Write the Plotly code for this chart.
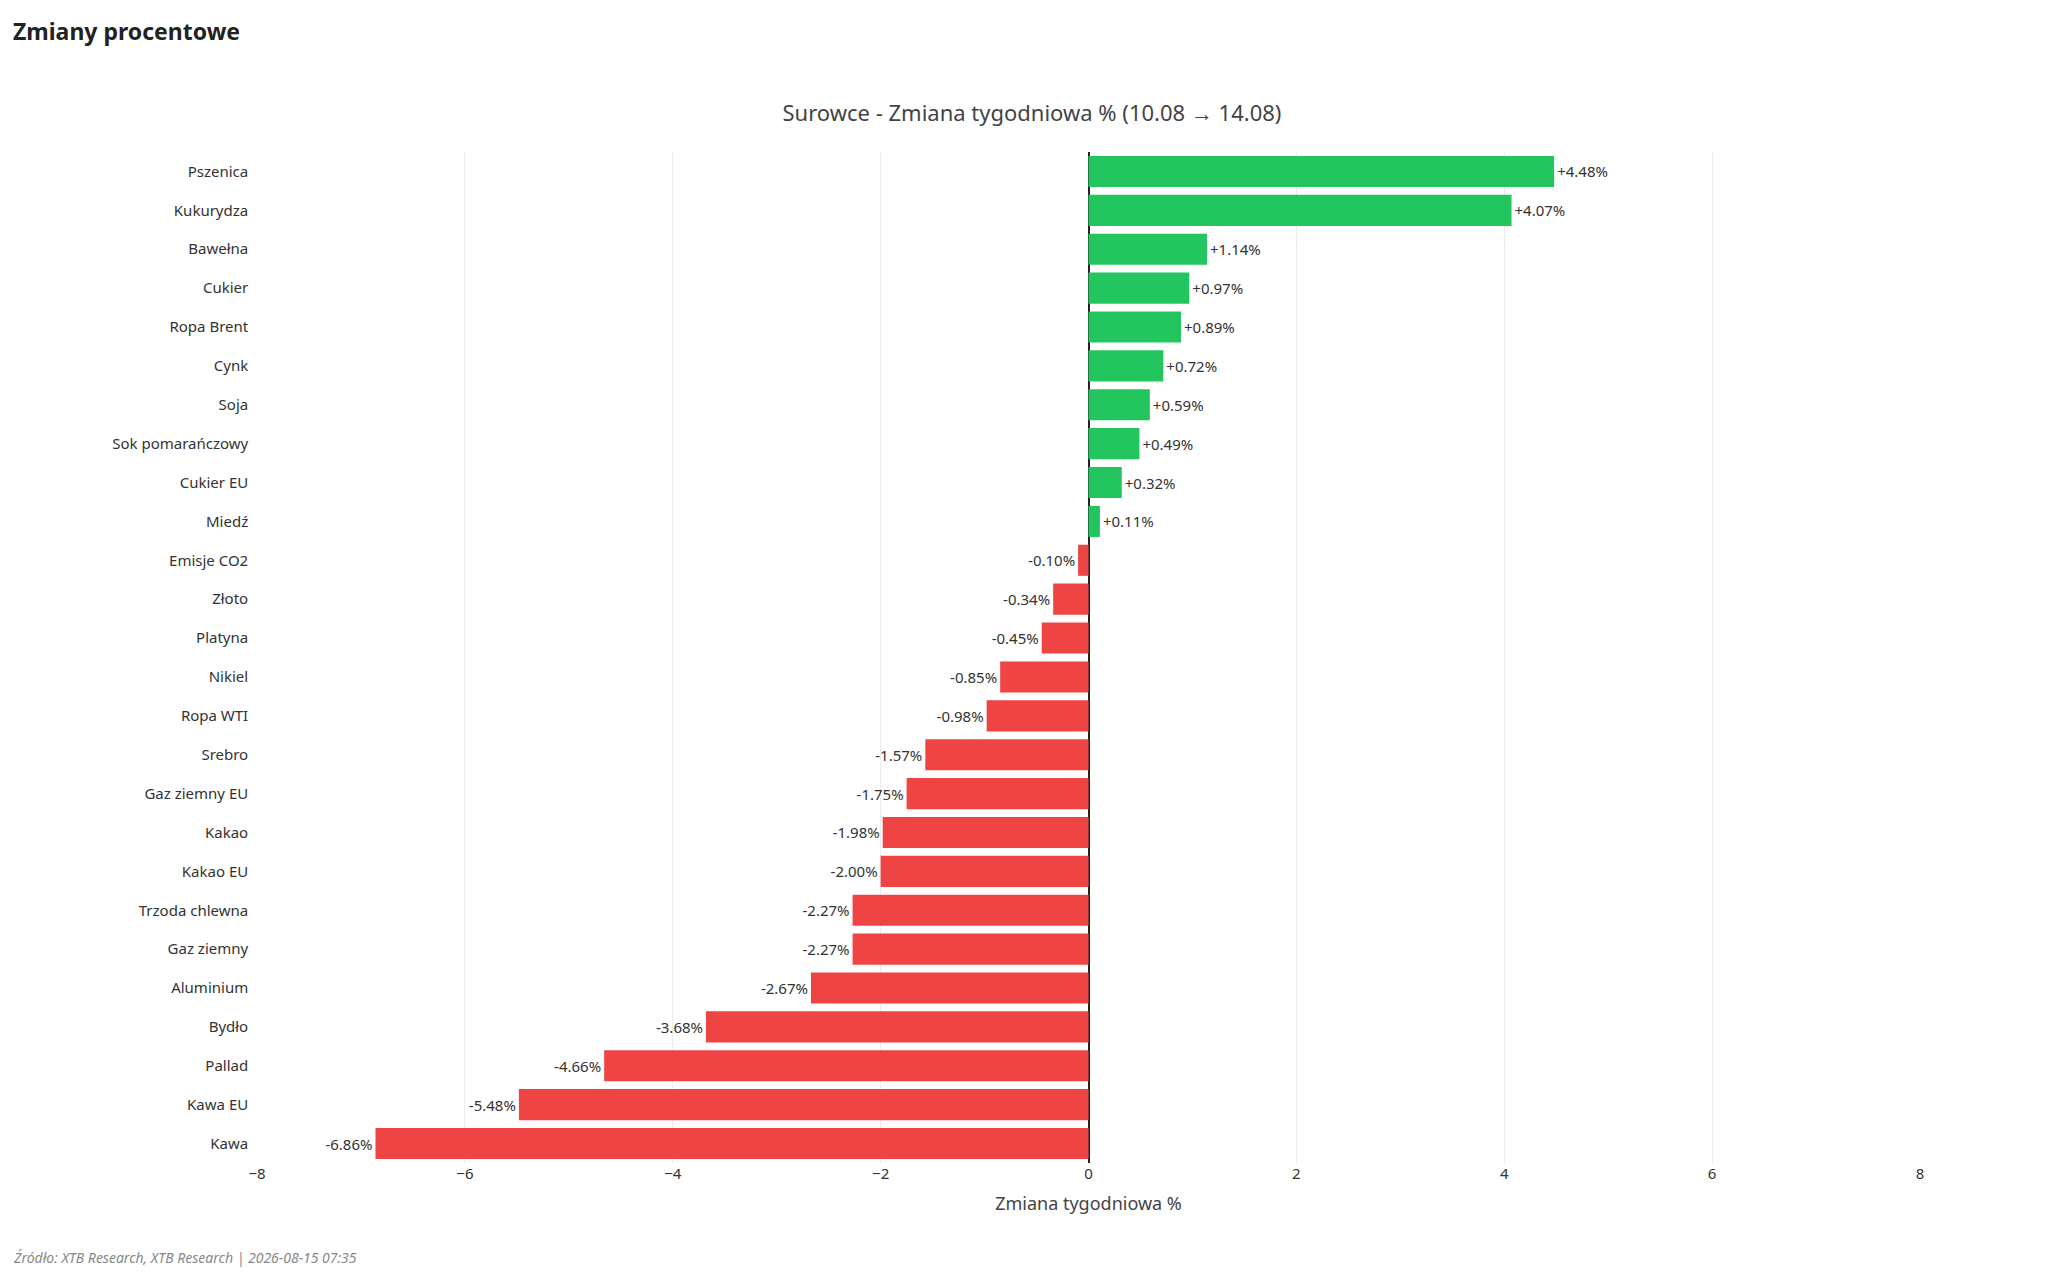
import plotly.graph_objects as go

names = ["Pszenica", "Kukurydza", "Bawełna", "Cukier", "Ropa Brent", "Cynk", "Soja",
         "Sok pomarańczowy", "Cukier EU", "Miedź", "Emisje CO2", "Złoto", "Platyna",
         "Nikiel", "Ropa WTI", "Srebro", "Gaz ziemny EU", "Kakao", "Kakao EU",
         "Trzoda chlewna", "Gaz ziemny", "Aluminium", "Bydło", "Pallad", "Kawa EU", "Kawa"]
changes = [4.48, 4.07, 1.14, 0.97, 0.89, 0.72, 0.59, 0.49, 0.32, 0.11, -0.10, -0.34, -0.45,
           -0.85, -0.98, -1.57, -1.75, -1.98, -2.00, -2.27, -2.27, -2.67, -3.68, -4.66, -5.48, -6.86]

colors = ["#22c55e" if v >= 0 else "#ef4444" for v in changes]
labels = [f"{v:+.2f}%" for v in changes]

fig = go.Figure(go.Bar(
    x=changes, y=names, orientation="h",
    marker=dict(color=colors, line_width=0),
    text=labels, textposition="outside", cliponaxis=False,
    textfont=dict(size=15, color="#333"),
    hoverinfo="skip",
))

fig.update_layout(
    width=2048, height=1279,
    paper_bgcolor="white", plot_bgcolor="white",
    font=dict(family="Noto Sans, sans-serif", color="#333"),
    margin=dict(l=249, r=136, t=144, b=124),
    bargap=0.2,
    showlegend=False,
    title=dict(text="Surowce - Zmiana tygodniowa % (10.08 → 14.08)",
               x=0.5, xanchor="center", y=0.918, yanchor="middle",
               font=dict(size=22, color="#444")),
    xaxis=dict(range=[-8, 8], dtick=2, showgrid=True, gridcolor="#ececec",
               zeroline=True, zerolinecolor="#222", zerolinewidth=2,
               tickfont=dict(size=15), ticks="",
               title=dict(text="Zmiana tygodniowa %", font=dict(size=18, color="#444"))),
    yaxis=dict(autorange="reversed", showgrid=False, tickfont=dict(size=15),
               ticksuffix="  "),
    annotations=[
        dict(text="<b>Zmiany procentowe</b>", xref="paper", yref="paper",
             x=-0.148, y=1.12, xanchor="left", yanchor="middle",
             showarrow=False, font=dict(size=23, color="#222")),
        dict(text="<i>Źródło: XTB Research, XTB Research | 2026-08-15 07:35</i>",
             xref="paper", yref="paper", x=-0.148, y=-0.093,
             xanchor="left", yanchor="middle", showarrow=False,
             font=dict(size=14, color="#888")),
    ],
)

fig.write_html("out.html")
